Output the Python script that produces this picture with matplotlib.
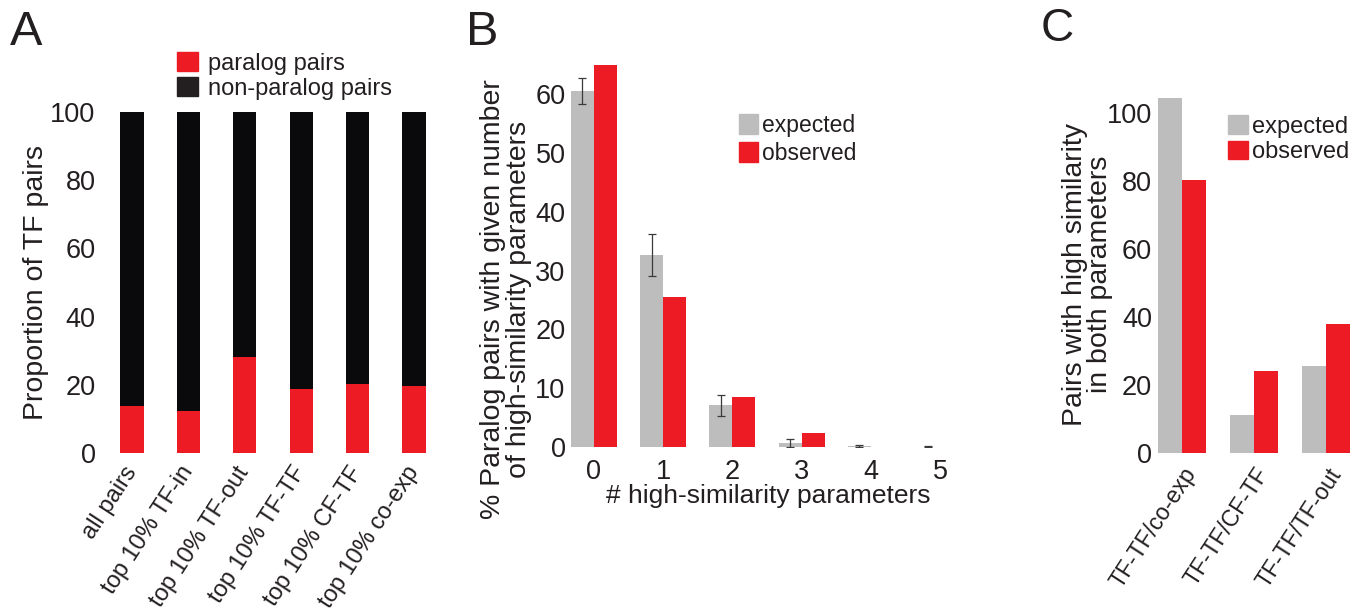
import numpy as np
import matplotlib.pyplot as plt
from matplotlib.transforms import ScaledTranslation

plt.rcParams['font.family'] = ['Liberation Sans', 'DejaVu Sans']

# panel A data
cats_a = ['all pairs', 'top 10% TF-in', 'top 10% TF-out',
          'top 10% TF-TF', 'top 10% CF-TF', 'top 10% co-exp']
paralog_pct = [13.8, 12.3, 28.2, 18.8, 20.2, 19.7]

# panel B data
n_params = [0, 1, 2, 3, 4, 5]
expected_b = [60.6, 32.7, 7.1, 0.7, 0.15, 0.05]
expected_b_err = [2.2, 3.6, 1.8, 0.7, 0.15, 0.05]
observed_b = [64.9, 25.5, 8.45, 2.3, 0.05, 0.02]

# panel C data
pairs_c = ['TF-TF/co-exp', 'TF-TF/CF-TF', 'TF-TF/TF-out']
expected_c = [104.4, 11.3, 25.8]
observed_c = [80.4, 24.2, 38.0]

RED = '#ED1C24'
GRAY = '#BDBDBD'
BLACK = '#0A0A0C'
TXT = '#231F20'

W, H = 1367, 616
fig = plt.figure(figsize=(W / 100, H / 100), dpi=100)


def ax_px(l, t, r, b):
    return fig.add_axes([l / W, 1 - b / H, (r - l) / W, (b - t) / H])


def clean(ax):
    for s in ax.spines.values():
        s.set_visible(False)
    ax.tick_params(length=0, colors=TXT, labelsize=19.5)


def legend_px(ax, handles, labels, x, y, fs, hl, hh, ls, tp):
    ax.legend(handles, labels, loc='upper left', bbox_to_anchor=(x / W, 1 - y / H),
              bbox_transform=fig.transFigure, frameon=False, fontsize=fs,
              borderpad=0, borderaxespad=0, handlelength=hl, handleheight=hh,
              handletextpad=tp, labelspacing=ls, labelcolor=TXT)


# ---- A ----
axA = ax_px(109.4, 112, 436.5, 453)
xa = np.arange(len(cats_a))
par = np.array(paralog_pct)
axA.bar(xa, par, width=0.41, color=RED)
axA.bar(xa, 100 - par, bottom=par, width=0.41, color=BLACK)
axA.set_xlim(-0.4, 5.4)
axA.set_ylim(0, 100)
axA.set_yticks(range(0, 101, 20))
axA.set_xticks(xa)
axA.set_xticklabels(cats_a, rotation=57, ha='right', va='center',
                    rotation_mode='anchor', fontsize=17)
clean(axA)
axA.tick_params(axis='y', pad=10)
axA.tick_params(axis='x', pad=11, labelsize=17)
leg_handles = [plt.Rectangle((0, 0), 1, 1, color=RED),
               plt.Rectangle((0, 0), 1, 1, color=TXT)]
legend_px(axA, leg_handles, ['paralog pairs', 'non-paralog pairs'], 177, 52, 17, 0.9, 0.85, 0.1, 0.4)
fig.text(36 / W, 1 - 282 / H, 'Proportion of TF pairs', rotation=90, ha='center',
         va='center', fontsize=20.5, color=TXT)

# ---- B ----
axB = ax_px(566.3, 59, 967.7, 447)
xb = np.array(n_params)
axB.bar(xb - 0.1667, expected_b, width=0.3333, color=GRAY,
        yerr=expected_b_err, error_kw=dict(ecolor='#3A3A3A', elinewidth=0.9, capsize=3, capthick=0.9))
axB.bar(xb + 0.1667, observed_b, width=0.3333, color=RED)
axB.set_xlim(-0.4, 5.4)
axB.set_ylim(0, 66)
axB.set_yticks(range(0, 61, 10))
axB.set_xticks(xb)
clean(axB)
axB.tick_params(axis='y', pad=0.5)
axB.tick_params(axis='x', pad=8.5)
ec_handles = [plt.Rectangle((0, 0), 1, 1, color=GRAY),
              plt.Rectangle((0, 0), 1, 1, color=RED)]
legend_px(axB, ec_handles, ['expected', 'observed'], 738.7, 114, 16.5, 0.85, 0.95, 0.2, 0.15)
fig.text(768 / W, 1 - 496 / H, '# high-similarity parameters', ha='center', va='center',
         fontsize=19, color=TXT)
fig.text(506 / W, 1 - 299 / H,
         '% Paralog pairs with given number\nof high-similarity parameters',
         rotation=90, ha='center', va='center', multialignment='center',
         fontsize=20.5, linespacing=0.95, color=TXT)

# ---- C ----
axC = ax_px(1152.8, 92.9, 1355.2, 453.3)
xc = np.arange(len(pairs_c))
axC.bar(xc - 0.1667, expected_c, width=0.3333, color=GRAY)
axC.bar(xc + 0.1667, observed_c, width=0.3333, color=RED)
axC.set_xlim(-0.4, 2.4)
axC.set_ylim(0, 106)
axC.set_yticks(range(0, 101, 20))
axC.set_xticks(xc)
axC.set_xticklabels(pairs_c, rotation=57, ha='right', va='center',
                    rotation_mode='anchor')
clean(axC)
axC.tick_params(axis='y', pad=0.5)
axC.tick_params(axis='x', pad=12, labelsize=16.5)
for lab in axC.get_xticklabels():
    lab.set_transform(lab.get_transform() + ScaledTranslation(0.10, 0, fig.dpi_scale_trans))
legend_px(axC, ec_handles, ['expected', 'observed'], 1228.3, 115, 17, 0.85, 0.85, 0.13, 0.15)
fig.text(1087.5 / W, 1 - 274 / H, 'Pairs with high similarity\nin both parameters',
         rotation=90, ha='center', va='center', multialignment='center',
         fontsize=20.5, linespacing=0.94, color=TXT)

# panel letters
fig.text(10 / W, 1 - 45 / H, 'A', fontsize=35, va='baseline', color=TXT)
fig.text(466 / W, 1 - 45 / H, 'B', fontsize=35, va='baseline', color=TXT)
fig.text(1041 / W, 1 - 41 / H, 'C', fontsize=33, va='baseline', color=TXT)

fig.savefig('out.png', dpi=100)
